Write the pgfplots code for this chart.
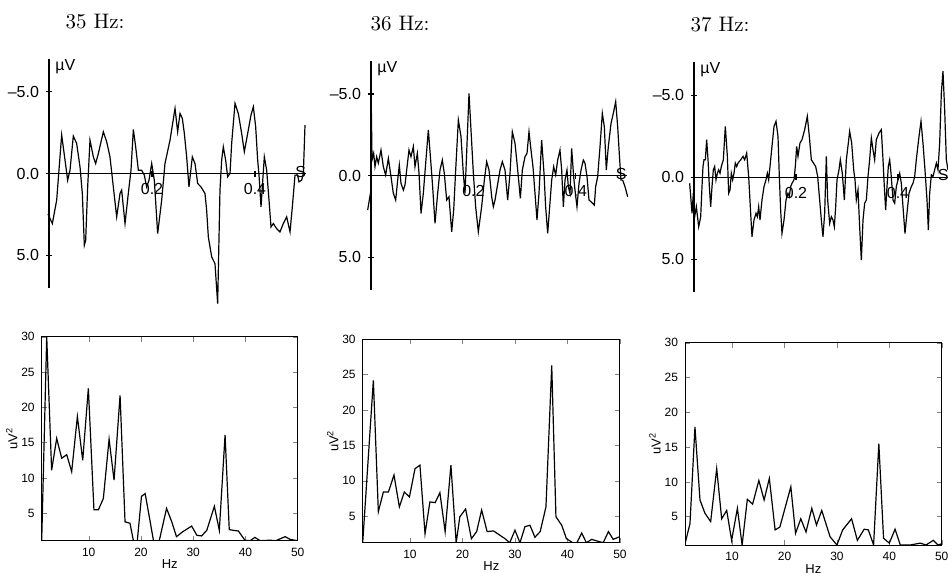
\documentclass[border=0pt]{standalone}
\usepackage{fontspec}
\setsansfont{Liberation Sans}
\usepackage{pgfplots}
\pgfplotsset{compat=1.18}

% EEG traces (top row): negative up, time axis through 0
\pgfplotsset{
  eeg/.style={
    scale only axis, anchor=south west,
    xmin=0, xmax=0.5, ymin=-7, ymax=7, y dir=reverse,
    axis x line=middle, axis y line=left,
    axis line style={-, line width=0.6pt},
    xtick={0.2,0.4}, xticklabels={0.2,0.4},
    ytick={-5,0,5}, yticklabels={–5.0,0.0,5.0},
    hide obscured x ticks=false, hide obscured y ticks=false,
    tick align=center, major tick length=3pt,
    tick style={line width=0.6pt, black},
    tick label style={font=\sffamily\fontsize{8}{9}\selectfont},
    clip=false},
  trace/.style={black, line width=0.6pt},
  % power spectra (bottom row)
  spec/.style={
    scale only axis, anchor=south west,
    xmin=1, xmax=50, ymax=30,
    xtick={10,20,30,40,50}, ytick={5,10,15,20,25,30},
    /pgf/number format/assume math mode=true,
    tick align=inside, tick pos=both, major tick length=2.5pt,
    axis line style={line width=0.5pt},
    tick label style={font=\sffamily\fontsize{6}{7}\selectfont},
    xlabel={Hz}, ylabel={uV\textsuperscript{2}},
    xlabel style={yshift=5pt},
    ylabel style={yshift=-5pt},
    label style={font=\sffamily\fontsize{6.5}{7}\selectfont}}
}

\begin{document}
\begin{tikzpicture}
\useasboundingbox (0,0) rectangle (474pt,-286.5pt);

\node[font=\fontsize{10.5}{12}\selectfont] at (47.5pt,-11pt) {35 Hz:};
\node[font=\fontsize{10.5}{12}\selectfont] at (200pt,-12pt) {36 Hz:};
\node[font=\fontsize{10.5}{12}\selectfont] at (360pt,-12.5pt) {37 Hz:};

% ---- 35 Hz trace
\begin{axis}[eeg, at={(24.5pt,-144pt)}, width=128.75pt, height=114.5pt]
\addplot[trace] coordinates {
(-0.002,2.49) (0.0065,3.06) (0.0149,1.63) (0.0246,-2.35) (0.0311,-0.82) (0.0362,0.41)
(0.0408,-0.2) (0.0472,-2.29) (0.0537,-1.84) (0.0602,-0.41) (0.0647,1.22) (0.0686,4.39)
(0.0712,4.08) (0.0751,0.82) (0.0796,-2.04) (0.0861,-1.02) (0.0906,-0.61) (0.0958,-1.22)
(0.1055,-2.55) (0.1120,-1.94) (0.1184,-1.02) (0.1249,0.82) (0.1314,2.65) (0.1379,1.22)
(0.1411,1.02) (0.1476,3.06) (0.1540,1.22) (0.1592,-0.2) (0.1638,-2.69) (0.1683,-1.63)
(0.1735,-0.2) (0.1799,-0.2) (0.1851,0.1) (0.1896,0.82) (0.1942,0.41) (0.1994,-0.61)
(0.2045,0.41) (0.2110,3.67) (0.2188,1.63) (0.2252,-0.61) (0.2350,-2.04) (0.2447,-3.98)
(0.2498,-2.55) (0.2544,-3.67) (0.2589,-3.37) (0.2628,-2.45) (0.2673,-1.02) (0.2718,0.82)
(0.2783,-1.02) (0.2835,-0.61) (0.2887,0.61) (0.2951,0.82) (0.3029,1.22) (0.3061,2.24)
(0.3094,3.88) (0.3159,5.1) (0.3223,5.51) (0.3275,7.96) (0.3320,1.02) (0.3353,-0.82)
(0.3385,-1.63) (0.3430,-0.82) (0.3469,0.2) (0.3515,0) (0.3547,-1.84) (0.3612,-4.29)
(0.3676,-3.67) (0.3741,-2.45) (0.3793,-1.33) (0.3858,-2.45) (0.3922,-3.57) (0.3968,-4.08)
(0.4013,-2.86) (0.4052,-0.82) (0.4078,0.1) (0.4117,2.04) (0.4142,0.82) (0.4181,-1.02)
(0.4227,-0.2) (0.4272,1.63) (0.4311,3.27) (0.4356,3.06) (0.4421,3.37) (0.4485,3.57)
(0.4550,3.06) (0.4615,2.65) (0.4680,3.57) (0.4725,2.04) (0.4777,0.1) (0.4828,0.1)
(0.4854,0.51) (0.4906,0.41) (0.4939,0) (0.4971,-2.96)};
\node[anchor=north west, inner sep=0pt, xshift=3pt, font=\sffamily\fontsize{8}{9}\selectfont] at (axis cs:0,-7) {µV};
\node[anchor=east, inner sep=0pt, yshift=1pt, font=\sffamily\fontsize{8}{9}\selectfont] at (axis cs:0.5,0) {S};
\end{axis}

% ---- 36 Hz trace
\begin{axis}[eeg, at={(185.5pt,-145.05pt)}, width=128pt, height=114.4pt]
\addplot[trace] coordinates {
(-0.0065,2.10) (0,0.88) (0.0007,-4.02) (0.002,-0.96) (0.0052,-1.37) (0.0078,-0.55)
(0.0111,-1.16) (0.0143,-0.76) (0.0195,-1.57) (0.0241,-0.55) (0.0286,-0.04) (0.0339,-1.06)
(0.0391,0.06) (0.0436,1.08) (0.0482,1.49) (0.0521,0.27) (0.0553,-0.65) (0.0586,0.47)
(0.0632,0.88) (0.0664,0.57) (0.0697,-0.35) (0.0742,-1.57) (0.0781,-1.16) (0.0827,-1.78)
(0.0859,-0.55) (0.0905,-1.37) (0.0938,-0.14) (0.0977,2.31) (0.1022,1.08) (0.1068,-0.76)
(0.1120,-2.80) (0.1165,-0.96) (0.1204,0.67) (0.1250,2.92) (0.1302,1.08) (0.1348,-0.35)
(0.1393,-0.96) (0.1432,-0.14) (0.1478,1.49) (0.1523,1.29) (0.1576,3.43) (0.1615,2.10)
(0.1654,-0.35) (0.1706,-3.41) (0.1758,-2.39) (0.1803,-0.14) (0.1836,1.08) (0.1868,-1.37)
(0.1914,-5.04) (0.1953,-2.80) (0.1999,-0.14) (0.2044,1.90) (0.2096,3.43) (0.2161,1.90)
(0.2214,0.27) (0.2259,-0.86) (0.2305,-0.35) (0.2357,1.29) (0.2389,1.90) (0.2422,1.49)
(0.2520,-0.35) (0.2565,-0.86) (0.2617,-0.35) (0.2669,1.49) (0.2715,-0.14) (0.2760,-2.69)
(0.2813,-1.98) (0.2865,-0.35) (0.2917,1.39) (0.2956,-0.35) (0.3008,-1.16) (0.3047,-1.37)
(0.3086,-2.69) (0.3125,-1.57) (0.3164,-0.55) (0.3203,1.08) (0.3242,2.71) (0.3281,1.08)
(0.3333,-2.18) (0.3379,-0.14) (0.3411,1.90) (0.3451,3.53) (0.3490,1.90) (0.3529,0.27)
(0.3568,-0.55) (0.3607,-0.04) (0.3646,-0.96) (0.3691,-1.57) (0.3724,-0.35) (0.3757,1.90)
(0.3789,0.27) (0.3828,-0.35) (0.3854,0.67) (0.3887,1.08) (0.3919,-1.67) (0.3958,0.06)
(0.3984,0.88) (0.4023,1.90) (0.4063,0.47) (0.4102,-0.35) (0.4147,-0.96) (0.4180,-0.76)
(0.4219,0.06) (0.4258,1.49) (0.4297,1.59) (0.4329,1.69) (0.4362,1.80) (0.4388,0.67)
(0.4427,0.06) (0.4473,-1.78) (0.4518,-3.82) (0.4557,-3.00) (0.4596,-0.35) (0.4635,-1.78)
(0.4688,-3.20) (0.4733,-3.82) (0.4779,-4.53) (0.4818,-3.00) (0.4857,-0.96) (0.4883,0.27)
(0.4915,0.27) (0.4961,0.67) (0.5013,1.29)};
\node[anchor=north west, inner sep=0pt, xshift=3pt, font=\sffamily\fontsize{8}{9}\selectfont] at (axis cs:0,-7) {µV};
\node[anchor=east, inner sep=0pt, yshift=1pt, font=\sffamily\fontsize{8}{9}\selectfont] at (axis cs:0.5,0) {S};
\end{axis}

% ---- 37 Hz trace
\begin{axis}[eeg, at={(347pt,-146pt)}, width=127.5pt, height=114.8pt]
\addplot[trace] coordinates {
(-0.0085,0.37) (-0.0039,2.20) (-0.0013,0.98) (0.0013,2.41) (0.0046,1.80) (0.0092,3.02)
(0.0131,2.41) (0.0157,0.57) (0.0176,-0.65) (0.0196,-1.06) (0.0222,-1.06) (0.0248,-2.29)
(0.0275,-1.06) (0.0301,0.57) (0.0327,1.80) (0.0353,0.57) (0.0379,-0.45) (0.0405,-0.65)
(0.0431,0.16) (0.0458,-0.24) (0.0484,-0.45) (0.0510,-0.24) (0.0536,-0.65) (0.0575,-1.06)
(0.0614,-3.10) (0.0654,-1.27) (0.0680,0.98) (0.0706,0.78) (0.0732,-0.24) (0.0758,0.16)
(0.0784,-0.24) (0.0810,-0.86) (0.0837,-0.65) (0.0863,-0.86) (0.0915,-1.06) (0.0961,-1.27)
(0.0993,-1.06) (0.1033,-1.47) (0.1072,-0.04) (0.1111,2.20) (0.1137,3.63) (0.1176,2.61)
(0.1216,2.20) (0.1242,2.41) (0.1268,1.80) (0.1294,2.61) (0.1333,1.39) (0.1373,0.57)
(0.1412,0.16) (0.1438,-0.24) (0.1464,0.16) (0.1490,-0.65) (0.1529,-1.88) (0.1569,-3.10)
(0.1608,-3.41) (0.1647,-2.49) (0.1673,-0.04) (0.1699,2.00) (0.1725,3.43) (0.1765,2.61)
(0.1804,1.39) (0.1843,0.98) (0.1869,1.18) (0.1895,0.57) (0.1922,0.37) (0.1961,0.16)
(0.1987,-0.65) (0.2013,-1.88) (0.2039,-1.27) (0.2078,-2.08) (0.2118,-2.29) (0.2170,-2.90)
(0.2222,-3.71) (0.2261,-2.49) (0.2301,-1.06) (0.2386,-0.65) (0.2425,-0.04) (0.2464,1.39)
(0.2497,2.61) (0.2529,3.63) (0.2562,2.20) (0.2595,-1.27) (0.2621,1.39) (0.2660,2.82)
(0.2693,2.41) (0.2725,2.61) (0.2752,3.02) (0.2778,1.80) (0.2804,0.16) (0.2843,-0.45)
(0.2869,-1.06) (0.2908,-0.24) (0.2948,1.39) (0.2987,-1.06) (0.3026,-2.08) (0.3052,-2.80)
(0.3092,-2.08) (0.3131,-0.45) (0.3157,0.16) (0.3183,1.39) (0.3216,0.78) (0.3248,3.02)
(0.3281,5.06) (0.3314,2.61) (0.3346,1.59) (0.3379,1.39) (0.3412,-0.04) (0.3444,-1.06)
(0.3477,-2.39) (0.3510,-1.67) (0.3542,-1.06) (0.3575,-2.29) (0.3627,-2.69) (0.3673,-2.90)
(0.3706,-1.06) (0.3732,0.57) (0.3758,2.00) (0.3784,0.57) (0.3810,-0.65) (0.3837,-1.06)
(0.3863,-0.24) (0.3902,1.39) (0.3935,1.59) (0.3967,0.57) (0.4000,0.16) (0.4033,-0.24)
(0.4065,0.37) (0.4098,1.80) (0.4137,3.43) (0.4176,2.20) (0.4216,0.98) (0.4261,0.57)
(0.4294,0.37) (0.4327,-0.04) (0.4359,-1.06) (0.4412,-2.49) (0.4451,-3.41) (0.4490,-2.08)
(0.4529,-0.45) (0.4569,1.39) (0.4595,3.22) (0.4621,0.98) (0.4654,-0.14) (0.4686,-0.04)
(0.4719,-0.45) (0.4752,-0.86) (0.4784,-0.45) (0.4817,-2.08) (0.4850,-5.14) (0.4882,-6.47)
(0.4915,-4.12) (0.4948,-1.06) (0.4980,-0.45)};
\node[anchor=north west, inner sep=0pt, xshift=3pt, font=\sffamily\fontsize{8}{9}\selectfont] at (axis cs:0,-7) {µV};
\node[anchor=east, inner sep=0pt, yshift=1pt, font=\sffamily\fontsize{8}{9}\selectfont] at (axis cs:0.5,0) {S};
\end{axis}

% ---- 35 Hz spectrum
\begin{axis}[spec, at={(20.85pt,-270.35pt)}, width=128pt, height=102pt, ymin=1.13]
\addplot[trace] coordinates {
(1,1.13) (1.96,30) (2.9,11.1) (3.87,15.6) (4.83,12.8) (5.79,13.3) (6.74,10.9) (7.83,18.7)
(8.85,12.5) (9.93,22.7) (11.0,5.5) (11.85,5.5) (12.8,7.1) (13.9,15.5) (14.85,9.7) (16.0,21.7)
(16.95,3.8) (17.9,3.6) (18.55,1.13) (19.3,1.13) (20.1,7.4) (20.8,7.8) (21.6,4.5) (22.4,1.13)
(23.5,1.13) (24.9,5.7) (25.9,3.8) (26.8,1.7) (28,2.4) (29.7,3.2) (30.7,1.9) (31.6,1.8)
(32.6,2.6) (34.05,6.0) (35,2.6) (36.1,16.1) (36.9,2.7) (37.7,2.6) (38.65,2.5) (39.9,1.2)
(40.9,1.13) (41.8,1.6) (42.8,1.13) (44.7,1.2) (45.8,1.13) (47.6,1.7) (48.6,1.3) (50,1.13)};
\end{axis}

% ---- 36 Hz spectrum
\begin{axis}[spec, at={(181.35pt,-271.35pt)}, width=128.65pt, height=101.7pt, ymin=1.23]
\addplot[trace] coordinates {
(1,1.23) (3.03,24.2) (3.98,5.6) (4.93,8.4) (5.9,8.4) (6.96,10.8) (7.98,6.3) (8.93,8.4)
(9.9,7.7) (10.96,11.7) (11.9,12.2) (12.87,2.5) (13.8,7.0) (14.8,6.9) (15.7,8.3) (16.7,2.8)
(17.8,12.2) (18.8,1.23) (19.5,4.9) (20.6,6.0) (21.7,1.8) (22.7,2.8) (23.65,5.85) (24.7,2.8)
(25.9,2.9) (27.1,2.3) (28.1,1.8) (29,1.23) (30,3.0) (30.95,1.23) (31.9,3.5) (32.85,3.7)
(33.8,2.0) (34.8,2.8) (35.9,6.3) (37,26.3) (37.8,4.9) (38.9,3.7) (39.8,1.8) (41,1.23)
(41.8,1.23) (42.7,2.6) (43.6,1.23) (44.6,1.7) (45.5,1.5) (46.8,1.23) (47.8,2.8) (48.7,1.7)
(50,2.1)};
\end{axis}

% ---- 37 Hz spectrum
\begin{axis}[spec, at={(342.5pt,-272.5pt)}, width=128.35pt, height=101.15pt, ymin=0.93]
\addplot[trace] coordinates {
(1,1.1) (1.95,4.0) (2.9,17.9) (3.86,7.4) (4.8,5.5) (5.9,4.3) (7.05,11.9) (8.0,4.7)
(8.96,5.9) (9.9,1.6) (11.0,6.2) (11.9,0.93) (12.9,7.5) (13.9,6.8) (15.1,10.2) (16.1,7.4)
(17.1,10.5) (18.2,3.1) (19.1,3.5) (21.2,9.3) (22.1,2.6) (23.1,4.7) (24.1,2.8) (25.2,6.2)
(26.1,3.8) (27.1,5.9) (28.7,2.1) (30.0,0.93) (31.1,3.1) (32.8,4.7) (33.9,1.6) (35.2,3.2)
(36.0,3.1) (37.0,0.93) (38.0,15.5) (38.9,1.9) (40.0,1.2) (41.1,3.2) (42.1,0.93) (44,0.93)
(45.9,1.2) (47,0.93) (48.4,1.6) (49.3,0.93) (50,1.1)};
\end{axis}
\end{tikzpicture}
\end{document}
